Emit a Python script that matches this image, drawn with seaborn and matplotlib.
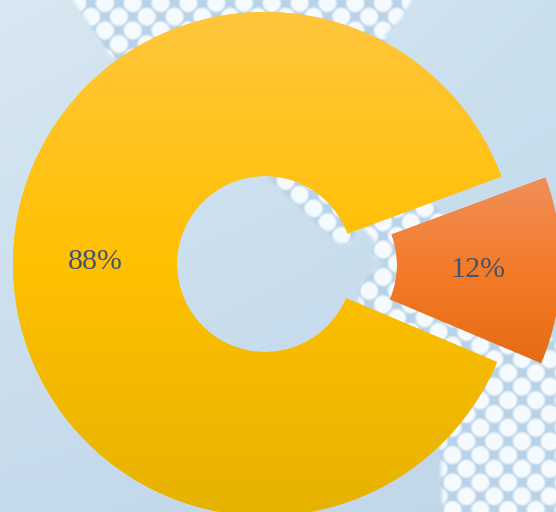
import numpy as np
import matplotlib
matplotlib.use("Agg")
import matplotlib.pyplot as plt
from matplotlib.path import Path
import seaborn as sns

# Chart values
shares = [88, 12]

# Vertical gradient stops for each slice, top to bottom
slice_stops = [
    ["#FFC63D", "#FFC000", "#E6B200"],
    ["#F18F5A", "#F47B28", "#E66B16"],
]
label_colour = "#44546A"

W, H = 556, 512
PULL_OUT = 44

sns.set_theme(style="white")
plt.rcParams["font.family"] = ["Liberation Serif", "DejaVu Serif"]


def box_soften(mask, reach=2):
    """Soften a mask with a small box filter, extending its edges outward."""
    size = 2 * reach + 1
    kernel = np.ones(size) / size
    padded = np.pad(mask, reach, mode="edge")
    padded = np.apply_along_axis(np.convolve, 0, padded, kernel, mode="same")
    padded = np.apply_along_axis(np.convolve, 1, padded, kernel, mode="same")
    return padded[reach:-reach, reach:-reach]


def backdrop():
    """Pale blue wash with a soft band of white hexagonal dots."""
    yy, xx = np.mgrid[0:H, 0:W] + 0.5
    tl = np.array([0xD8, 0xE8, 0xF2], float)
    tr = np.array([0xCB, 0xE0, 0xEE], float)
    bl = np.array([0xC5, 0xDA, 0xEB], float)
    br = np.array([0xC0, 0xD6, 0xEA], float)
    u = (xx / W)[..., None]
    v = (yy / H)[..., None]
    img = (1 - v) * ((1 - u) * tl + u * tr) + v * ((1 - u) * bl + u * br)

    band = Path([(72, -2), (110, 55), (262, 172), (338, 243), (350, 244),
                 (360, 226), (375, 240), (372, 255), (386, 263), (372, 272),
                 (360, 286), (358, 300), (440, 440), (443, 514),
                 (558, 514), (558, 345), (430, 200), (385, 35), (400, 20),
                 (413, -2)])
    inside = band.contains_points(np.c_[xx.ravel(), yy.ravel()]).reshape(H, W).astype(float)
    inside = box_soften(inside)

    dx, dy, x0, y0 = 27.8, 13.7, 105.0, 3.0
    row = np.round((yy - y0) / dy)
    shift = np.where(row.astype(int) % 2 == 1, dx / 2, 0.0)
    col = np.round((xx - x0 - shift) / dx)
    d1 = np.hypot(xx - (x0 + shift + col * dx), yy - (y0 + row * dy))
    row2 = row + np.where(yy - (y0 + row * dy) > 0, 1, -1)
    shift2 = np.where(row2.astype(int) % 2 == 1, dx / 2, 0.0)
    col2 = np.round((xx - x0 - shift2) / dx)
    d2 = np.hypot(xx - (x0 + shift2 + col2 * dx), yy - (y0 + row2 * dy))
    dist = np.minimum(d1, d2)
    dots = np.clip((10.5 - dist) / 3.0, 0, 1)

    cell = np.array([0xB8, 0xD2, 0xE8], float)
    dot = np.array([0xF5, 0xFA, 0xFE], float)
    pattern = cell * (1 - dots[..., None]) + dot * dots[..., None]
    return (img * (1 - inside[..., None]) + pattern * inside[..., None]) / 255


fig = plt.figure(figsize=(W / 100, H / 100), dpi=100)
ax = fig.add_axes([0, 0, 1, 1])
ax.imshow(backdrop(), extent=(0, W, 0, H), origin="upper", zorder=0, aspect="auto")

wedges, texts, pct = ax.pie(
    shares,
    explode=[0, PULL_OUT],
    startangle=20.3,
    radius=252,
    center=(265, 248),
    colors=[stops[1] for stops in slice_stops],
    autopct="%.0f%%",
    pctdistance=0.672,
    wedgeprops={"width": 164, "linewidth": 0},
    textprops={"color": label_colour, "fontsize": 21.6, "zorder": 5},
)

# Nudge the percentages down to sit on the slice's optical centre
for label in pct:
    px, py = label.get_position()
    label.set_position((px, py - 1.5))

# Paint each slice with its own top-to-bottom gradient
for wedge, stops in zip(wedges, slice_stops):
    outline = wedge.get_patch_transform().transform_path(wedge.get_path())
    (x0, y0), (x1, y1) = outline.get_extents().get_points()
    ramp = np.array(sns.blend_palette(stops, n_colors=256))[:, None, :3]
    shade = ax.imshow(ramp, extent=(x0, x1, y0, y1), origin="upper",
                      aspect="auto", zorder=2, interpolation="bilinear")
    shade.set_clip_path(wedge)

ax.set_xlim(0, W)
ax.set_ylim(0, H)
ax.set_aspect("auto")
ax.axis("off")

fig.savefig("out.png", dpi=100)
